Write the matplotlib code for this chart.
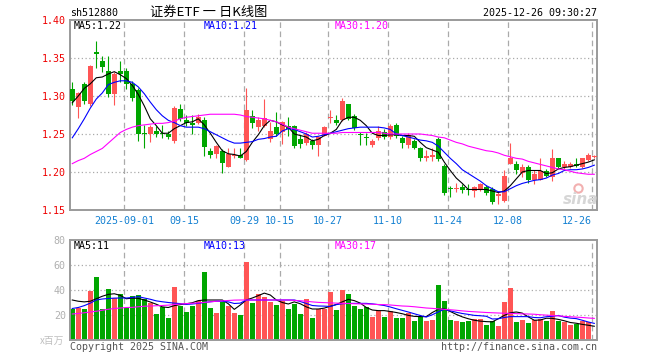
import matplotlib
matplotlib.use('Agg')
import matplotlib.pyplot as plt
from matplotlib.lines import Line2D
import numpy as np

# daily candles, 2025-08-19 .. 2025-12-26 (88 trading days)
opens = [1.309, 1.285, 1.316, 1.289, 1.358, 1.346, 1.333, 1.302, 1.333, 1.333,
         1.316, 1.308, 1.251, 1.250, 1.254, 1.251, 1.250, 1.241, 1.283, 1.268,
         1.265, 1.264, 1.268, 1.227, 1.224, 1.227, 1.207, 1.221, 1.222, 1.216,
         1.274, 1.259, 1.261, 1.243, 1.259, 1.253, 1.261, 1.261, 1.244, 1.238,
         1.241, 1.235, 1.248, 1.271, 1.269, 1.268, 1.289, 1.274, 1.250, 1.246,
         1.236, 1.245, 1.252, 1.246, 1.262, 1.245, 1.236, 1.241, 1.231, 1.219,
         1.220, 1.244, 1.208, 1.179, 1.178, 1.180, 1.178, 1.175, 1.177, 1.180,
         1.178, 1.169, 1.162, 1.211, 1.210, 1.199, 1.207, 1.190, 1.190, 1.201,
         1.193, 1.218, 1.206, 1.207, 1.210, 1.206, 1.216, 1.220]
highs = [1.319, 1.305, 1.319, 1.341, 1.372, 1.353, 1.352, 1.331, 1.346, 1.337,
         1.320, 1.310, 1.262, 1.262, 1.261, 1.262, 1.254, 1.287, 1.289, 1.275,
         1.275, 1.276, 1.272, 1.232, 1.236, 1.230, 1.232, 1.232, 1.231, 1.311,
         1.282, 1.273, 1.296, 1.266, 1.279, 1.267, 1.272, 1.262, 1.249, 1.253,
         1.243, 1.247, 1.260, 1.281, 1.275, 1.298, 1.289, 1.276, 1.253, 1.251,
         1.244, 1.261, 1.257, 1.263, 1.264, 1.247, 1.251, 1.244, 1.233, 1.229,
         1.232, 1.246, 1.210, 1.182, 1.186, 1.184, 1.184, 1.181, 1.186, 1.183,
         1.180, 1.175, 1.202, 1.238, 1.215, 1.210, 1.209, 1.202, 1.218, 1.204,
         1.230, 1.219, 1.215, 1.213, 1.218, 1.219, 1.225, 1.223]
lows = [1.288, 1.271, 1.289, 1.287, 1.337, 1.332, 1.299, 1.288, 1.318, 1.309,
        1.294, 1.241, 1.232, 1.240, 1.246, 1.245, 1.244, 1.238, 1.267, 1.260,
        1.250, 1.263, 1.221, 1.218, 1.218, 1.199, 1.206, 1.218, 1.218, 1.214,
        1.258, 1.254, 1.259, 1.240, 1.247, 1.237, 1.248, 1.232, 1.231, 1.236,
        1.230, 1.221, 1.247, 1.265, 1.262, 1.267, 1.268, 1.255, 1.235, 1.236,
        1.233, 1.242, 1.243, 1.243, 1.245, 1.232, 1.231, 1.230, 1.215, 1.215,
        1.214, 1.214, 1.170, 1.167, 1.174, 1.172, 1.170, 1.167, 1.175, 1.170,
        1.158, 1.158, 1.161, 1.210, 1.198, 1.193, 1.185, 1.184, 1.189, 1.193,
        1.188, 1.204, 1.204, 1.205, 1.206, 1.205, 1.214, 1.218]
closes = [1.293, 1.304, 1.294, 1.340, 1.355, 1.338, 1.302, 1.329, 1.329, 1.316,
          1.298, 1.250, 1.250, 1.259, 1.250, 1.250, 1.246, 1.284, 1.270, 1.264,
          1.262, 1.272, 1.233, 1.222, 1.234, 1.212, 1.224, 1.223, 1.219, 1.281,
          1.264, 1.269, 1.271, 1.254, 1.250, 1.266, 1.257, 1.234, 1.237, 1.250,
          1.235, 1.246, 1.259, 1.273, 1.265, 1.294, 1.270, 1.258, 1.249, 1.245,
          1.241, 1.254, 1.246, 1.261, 1.248, 1.238, 1.249, 1.232, 1.218, 1.221,
          1.222, 1.217, 1.173, 1.177, 1.179, 1.176, 1.176, 1.180, 1.184, 1.172,
          1.161, 1.171, 1.195, 1.218, 1.202, 1.207, 1.190, 1.197, 1.201, 1.195,
          1.218, 1.206, 1.211, 1.211, 1.208, 1.218, 1.222, 1.221]

# moving averages as drawn on the chart
ma5 = [1.291, 1.300, 1.310, 1.316, 1.324, 1.325, 1.329, 1.332, 1.328, 1.323,
       1.314, 1.302, 1.287, 1.270, 1.261, 1.251, 1.251, 1.257, 1.261, 1.265,
       1.266, 1.270, 1.262, 1.251, 1.239, 1.228, 1.224, 1.223, 1.221, 1.227,
       1.239, 1.249, 1.261, 1.268, 1.266, 1.262, 1.259, 1.250, 1.248, 1.246,
       1.241, 1.243, 1.248, 1.251, 1.256, 1.268, 1.272, 1.272, 1.268, 1.261,
       1.251, 1.248, 1.248, 1.249, 1.249, 1.248, 1.248, 1.247, 1.239, 1.232,
       1.229, 1.226, 1.213, 1.202, 1.192, 1.185, 1.177, 1.177, 1.177, 1.177,
       1.175, 1.173, 1.175, 1.182, 1.191, 1.200, 1.202, 1.202, 1.202, 1.198,
       1.199, 1.204, 1.206, 1.207, 1.209, 1.211, 1.213, 1.216]
ma10 = [1.245, 1.257, 1.270, 1.284, 1.296, 1.304, 1.315, 1.318, 1.320, 1.320,
        1.318, 1.312, 1.303, 1.292, 1.282, 1.274, 1.268, 1.265, 1.261, 1.259,
        1.259, 1.259, 1.257, 1.253, 1.249, 1.245, 1.241, 1.238, 1.238, 1.239,
        1.240, 1.243, 1.244, 1.246, 1.247, 1.254, 1.257, 1.256, 1.253, 1.250,
        1.246, 1.247, 1.249, 1.251, 1.253, 1.255, 1.257, 1.258, 1.259, 1.259,
        1.259, 1.259, 1.258, 1.256, 1.250, 1.248, 1.246, 1.244, 1.242, 1.241,
        1.239, 1.234, 1.226, 1.218, 1.211, 1.203, 1.198, 1.193, 1.188, 1.182,
        1.178, 1.174, 1.174, 1.178, 1.182, 1.185, 1.187, 1.189, 1.190, 1.192,
        1.196, 1.198, 1.202, 1.203, 1.203, 1.204, 1.206, 1.209]
ma30 = [1.211, 1.215, 1.218, 1.223, 1.227, 1.231, 1.238, 1.245, 1.252, 1.256,
        1.259, 1.261, 1.262, 1.263, 1.264, 1.264, 1.265, 1.267, 1.270, 1.272,
        1.273, 1.274, 1.275, 1.276, 1.276, 1.276, 1.276, 1.276, 1.275, 1.273,
        1.272, 1.271, 1.270, 1.268, 1.266, 1.263, 1.259, 1.257, 1.255, 1.253,
        1.251, 1.251, 1.251, 1.251, 1.251, 1.252, 1.252, 1.252, 1.252, 1.252,
        1.252, 1.252, 1.251, 1.250, 1.250, 1.250, 1.250, 1.250, 1.250, 1.249,
        1.248, 1.246, 1.245, 1.242, 1.239, 1.237, 1.234, 1.232, 1.230, 1.228,
        1.227, 1.225, 1.222, 1.220, 1.218, 1.217, 1.214, 1.212, 1.210, 1.208,
        1.206, 1.204, 1.203, 1.201, 1.199, 1.198, 1.197, 1.197]

# volume, millions of shares
volumes = [24.5, 26.0, 24.5, 39.5, 50.4, 24.5, 40.8, 33.5, 36.8, 25.6,
           35.2, 36.3, 33.1, 29.6, 20.8, 26.4, 17.6, 42.4, 27.3, 22.4,
           27.3, 31.3, 54.4, 25.6, 21.8, 30.6, 27.0, 22.0, 20.2, 62.4,
           29.5, 36.8, 34.5, 30.8, 28.0, 31.4, 24.9, 28.9, 20.8, 32.7,
           17.8, 25.0, 25.0, 38.4, 24.0, 40.0, 36.9, 27.6, 25.0, 26.5,
           18.6, 23.5, 18.6, 23.0, 17.9, 17.9, 21.6, 15.2, 19.5, 15.2,
           16.1, 44.0, 31.2, 16.2, 15.2, 14.4, 15.2, 17.0, 17.0, 12.0,
           15.2, 11.2, 30.7, 41.6, 14.4, 16.0, 13.6, 16.0, 16.8, 15.2,
           23.2, 15.2, 14.4, 11.7, 12.8, 15.2, 14.4, 0.8]
vol_ma5 = [32.0, 31.0, 30.5, 31.0, 33.0, 35.0, 36.5, 37.0, 35.7, 33.0,
           33.5, 33.3, 32.0, 30.4, 28.6, 26.5, 26.0, 27.5, 28.3, 29.0,
           29.8, 31.5, 32.0, 32.0, 32.0, 32.0, 29.0, 24.5, 28.0, 32.0,
           33.6, 35.5, 37.5, 36.0, 32.0, 30.0, 28.8, 30.5, 29.0, 26.5,
           24.8, 24.8, 25.5, 27.0, 28.4, 30.5, 32.5, 31.5, 29.5, 26.0,
           24.0, 23.5, 23.5, 22.8, 22.0, 21.0, 19.7, 18.9, 18.7, 18.7,
           22.0, 24.5, 25.0, 22.8, 20.5, 18.5, 17.0, 15.8, 15.1, 14.7,
           14.5, 17.0, 19.7, 21.8, 22.4, 21.5, 18.5, 15.8, 16.0, 17.4,
           17.3, 16.5, 15.4, 14.0, 13.4, 12.5, 11.8, 11.0]
vol_ma10 = [25.2, 26.0, 27.5, 29.5, 32.0, 32.8, 33.2, 33.5, 33.6, 33.6,
            34.0, 34.7, 33.6, 32.6, 31.3, 30.6, 30.0, 29.5, 29.1, 28.5,
            28.8, 29.3, 30.0, 30.6, 31.0, 31.0, 30.5, 29.2, 29.5, 32.0,
            32.0, 32.0, 32.0, 32.0, 32.0, 32.0, 32.0, 32.0, 30.8, 29.2,
            27.6, 27.2, 27.1, 26.8, 28.3, 29.0, 29.3, 29.3, 29.3, 29.3,
            28.9, 28.3, 27.6, 26.4, 25.0, 23.7, 22.4, 21.0, 19.6, 18.4,
            20.2, 22.5, 24.5, 23.3, 22.2, 21.2, 20.5, 19.7, 19.4, 19.0,
            16.8, 17.0, 18.0, 18.7, 18.7, 18.7, 18.7, 18.0, 17.8, 18.6,
            19.0, 19.6, 18.3, 17.5, 17.1, 15.8, 14.4, 13.3]
vol_ma30 = [20.8, 21.2, 21.8, 22.4, 23.0, 23.8, 24.6, 25.2, 25.6, 26.0,
            26.1, 26.6, 27.0, 27.2, 27.4, 27.6, 27.9, 28.4, 28.8, 29.1,
            29.4, 29.7, 30.1, 30.5, 31.0, 31.3, 31.6, 31.9, 32.0, 32.0,
            32.0, 32.0, 32.0, 32.0, 32.0, 32.0, 32.0, 31.7, 31.4, 31.0,
            30.5, 30.1, 29.9, 29.7, 29.5, 29.3, 29.2, 29.0, 28.9, 28.8,
            28.6, 28.4, 28.3, 28.0, 27.6, 27.2, 27.0, 26.6, 26.1, 25.6,
            25.3, 24.9, 24.5, 24.2, 23.8, 23.3, 22.9, 22.6, 22.3, 22.0,
            21.8, 21.6, 21.4, 21.3, 21.1, 20.9, 20.8, 20.6, 20.2, 19.9,
            19.6, 19.3, 18.9, 18.6, 18.3, 18.0, 17.6, 17.3]

date_idx = [9, 19, 29, 35, 43, 53, 63, 73, 87]
date_labels = ['2025-09-01', '09-15', '09-29', '10-15', '10-27',
               '11-10', '11-24', '12-08', '12-26']
price_ticks = [1.15, 1.20, 1.25, 1.30, 1.35, 1.40]
vol_ticks = [20, 40, 60, 80]

RED = '#ff5555'
GREEN = '#00a600'
GRID = '#aaaaaa'
FRAME = '#9a9a9a'
MONO = 'DejaVu Sans Mono'
CJK = ['Noto Sans CJK SC', 'DejaVu Sans']

o = np.array(opens)
c = np.array(closes)
x = np.arange(len(c))
colors = np.where(c >= o, RED, GREEN)

W, H = 660, 360
fig = plt.figure(figsize=(6.6, 3.6), dpi=100)
ax = fig.add_axes([70 / W, 150 / H, 527 / W, 190 / H])
axv = fig.add_axes([70 / W, 20 / H, 527 / W, 100 / H])

xmin, xmax = -0.38, 87.45
vline_pos = np.array(date_idx) - 0.38

for a in (ax, axv):
    a.set_xlim(xmin, xmax)
    for s in a.spines.values():
        s.set_color(FRAME)
        s.set_linewidth(1.4)
    for p in vline_pos:
        a.axvline(p, color=GRID, lw=0.9, dashes=(4.5, 2.8), zorder=0)

# price panel
for y in price_ticks[1:-1]:
    ax.axhline(y, color=GRID, lw=0.9, dashes=(1, 2), zorder=0)
ax.vlines(x, lows, highs, colors=colors, lw=0.8, zorder=2)
body = np.maximum(np.abs(c - o), 0.0013)
ax.bar(x, body, 0.78, bottom=np.minimum(o, c), color=colors, lw=0, zorder=3)
ax.plot(x, ma5, color='black', lw=0.8, zorder=4)
ax.plot(x, ma10, color='#0000ff', lw=0.8, zorder=4)
ax.plot(x, ma30, color='#ff00ff', lw=0.8, zorder=4)
ax.set_ylim(1.15, 1.40)
ax.set_yticks(price_ticks, ['%.2f' % t for t in price_ticks])
ax.set_xticks(vline_pos, date_labels)
ax.tick_params(axis='y', length=0, pad=3, labelcolor='#ee0000', labelsize=7.2)
ax.tick_params(axis='x', length=0, pad=4, labelcolor='#1380d2', labelsize=7.2)
for lab in ax.get_xticklabels() + ax.get_yticklabels():
    lab.set_family(MONO)
# last date sits at the right edge, so it ends on its line
ax.get_xticklabels()[-1].set_horizontalalignment('right')

# volume panel
for y in vol_ticks[:-1]:
    axv.axhline(y, color=GRID, lw=0.9, dashes=(1, 2), zorder=0)
axv.bar(x, volumes, 0.78, color=colors, lw=0, zorder=2)
axv.plot(x, vol_ma5, color='black', lw=0.8, zorder=4)
axv.plot(x, vol_ma10, color='#0000ff', lw=0.8, zorder=4)
axv.plot(x, vol_ma30, color='#ff00ff', lw=0.8, zorder=4)
axv.set_ylim(0, 80)
axv.set_yticks(vol_ticks, [str(t) for t in vol_ticks])
axv.set_xticks([])
axv.tick_params(axis='y', length=0, pad=3, labelcolor='#b0b0b0', labelsize=7.2)
for lab in axv.get_yticklabels():
    lab.set_family(MONO)


def ftext(px, py, s, **kw):
    kw.setdefault('family', MONO)
    kw.setdefault('size', 7.2)
    kw.setdefault('va', 'center')
    fig.text(px / W, 1 - py / H, s, **kw)


ftext(70, 13, 'sh512880')
ftext(209, 12, '证券ETF 一 日K线图', ha='center', family=CJK, size=9.5)
ftext(597, 13, '2025-12-26 09:30:27', ha='right')

ftext(74, 26, 'MA5:%.2f' % ma5[-1])
ftext(204, 26, 'MA10:%.2f' % ma10[-1], color='#0000ff')
ftext(335, 26, 'MA30:%.2f' % ma30[-1], color='#ff00ff')

ftext(74, 246, 'MA5:%d' % round(vol_ma5[-1]))
ftext(204, 246, 'MA10:%d' % round(vol_ma10[-1]), color='#0000ff')
ftext(335, 246, 'MA30:%d' % round(vol_ma30[-1]), color='#ff00ff')

ftext(64, 341, 'x百万', ha='right', family=CJK, size=7, color='#c0c0c0')
ftext(70, 347, 'Copyright 2025 SINA.COM', color='#555555')
ftext(597, 347, 'http://finance.sina.com.cn', ha='right', color='#555555')

# faint sina watermark
ftext(581, 199, 'sina', ha='center', family='DejaVu Sans', size=11,
      style='italic', weight='bold', color='#d6d6d6')
fig.add_artist(Line2D([578 / W], [1 - 188 / H], marker='o', mfc='none',
                      mec='#f2b0b0', mew=1.5, ms=6, transform=fig.transFigure))

fig.savefig('out.png', dpi=100)
